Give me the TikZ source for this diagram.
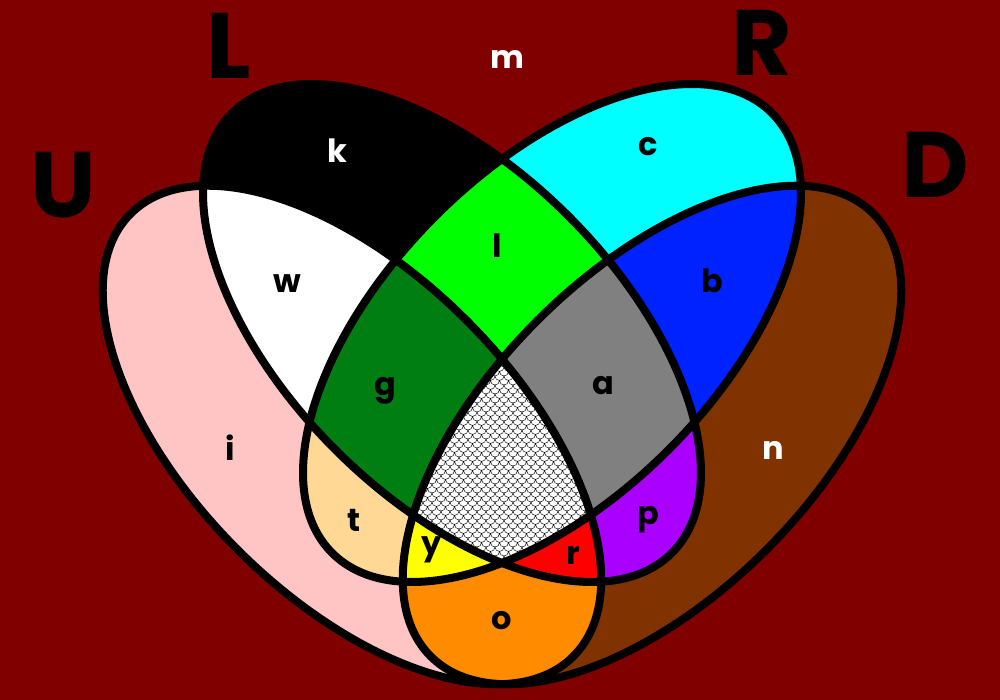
\documentclass[tikz,border=0pt]{standalone}
\usepackage{fontspec}
\setmainfont{Poppins}
\usetikzlibrary{patterns}
\definecolor{bgred}{RGB}{128,0,0}
\definecolor{cpink}{RGB}{255,196,196}
\definecolor{cbrown}{RGB}{128,51,0}
\definecolor{ccyan}{RGB}{0,255,255}
\definecolor{cwhite}{RGB}{255,255,255}
\definecolor{clime}{RGB}{0,255,0}
\definecolor{cblue}{RGB}{0,34,255}
\definecolor{corange}{RGB}{255,140,0}
\definecolor{ctan}{RGB}{255,216,150}
\definecolor{cpurple}{RGB}{170,0,255}
\definecolor{cdkgreen}{RGB}{0,126,18}
\definecolor{cgray}{RGB}{128,128,128}
\definecolor{cred}{RGB}{255,0,0}
\definecolor{cyellow}{RGB}{255,255,0}
\pgfdeclarepatternformonly{scales}{\pgfqpoint{-1pt}{-1pt}}{\pgfqpoint{10pt}{10pt}}{\pgfqpoint{9pt}{9pt}}{%
  \pgfsetlinewidth{0.45pt}%
  \pgfpathmoveto{\pgfqpoint{0pt}{9pt}}\pgfpatharc{180}{360}{4.5pt}%
  \pgfpathmoveto{\pgfqpoint{0pt}{0pt}}\pgfpatharc{270}{360}{4.5pt}%
  \pgfpathmoveto{\pgfqpoint{4.5pt}{4.5pt}}\pgfpatharc{180}{270}{4.5pt}%
  \pgfusepath{stroke}}
\def\pU{(352pt,265pt) ellipse [x radius=313pt, y radius=162pt, rotate=-45]}
\def\pD{(652pt,265pt) ellipse [x radius=313pt, y radius=162pt, rotate=45]}
\def\pL{(452pt,367pt) ellipse [x radius=311pt, y radius=165pt, rotate=-45]}
\def\pR{(552pt,367pt) ellipse [x radius=311pt, y radius=165pt, rotate=45]}
\tikzset{
  big/.style={font=\fontsize{93}{93}\selectfont\bfseries, text=black, inner sep=0pt},
  lab/.style={font=\fontsize{32}{32}\selectfont\bfseries, text=black, inner sep=0pt},
  wlab/.style={lab, text=white},
  outline/.style={draw=black, line width=8pt}
}
\begin{document}
\begin{tikzpicture}[x=1pt,y=1pt]
\useasboundingbox (0,0) rectangle (1000,700);
\fill[bgred] (0,0) rectangle (1000,700);
% single sets
\fill[cpink] \pU;
\fill[cbrown] \pD;
\fill[black] \pL;
\fill[ccyan] \pR;
% pairs
\begin{scope}\clip \pU; \fill[cwhite] \pL; \end{scope}
\begin{scope}\clip \pL; \fill[clime] \pR; \end{scope}
\begin{scope}\clip \pR; \fill[cblue] \pD; \end{scope}
\begin{scope}\clip \pU; \fill[corange] \pD; \end{scope}
\begin{scope}\clip \pU; \fill[ctan] \pR; \end{scope}
\begin{scope}\clip \pL; \fill[cpurple] \pD; \end{scope}
% triples
\begin{scope}\clip \pU; \clip \pL; \fill[cdkgreen] \pR; \end{scope}
\begin{scope}\clip \pL; \clip \pR; \fill[cgray] \pD; \end{scope}
\begin{scope}\clip \pU; \clip \pL; \fill[cred] \pD; \end{scope}
\begin{scope}\clip \pU; \clip \pR; \fill[cyellow] \pD; \end{scope}
% all four
\begin{scope}\clip \pU; \clip \pL; \clip \pR;
  \fill[white] \pD; \fill[pattern=scales] \pD;
\end{scope}
% outlines
\draw[outline] \pU;
\draw[outline] \pD;
\draw[outline] \pL;
\draw[outline] \pR;
% set names
\node[big] (nU) at (63,515) {U};
\node[big] (nL) at (229,654) {L};
\node[big] (nR) at (762,657) {R};
\node[big] (nD) at (935,535) {D};
% region labels
\node[wlab] (rm) at (507,641) {m};
\node[wlab] (rk) at (337,549) {k};
\node[lab] (rc) at (648,553) {c};
\node[lab] (rw) at (287,416) {w};
\node[lab] (rl) at (497,454) {l};
\node[lab] (rb) at (712,419) {b};
\node[lab] (rg) at (385,309) {g};
\node[lab] (ra) at (603,314) {a};
\node[lab] (ri) at (230,252) {i};
\node[wlab] (rn) at (773,250) {n};
\node[lab] (rt) at (354,180) {t};
\node[lab] (rp) at (648,180) {p};
\node[lab] (ry) at (432,150) {y};
\node[lab] (rr) at (573,145) {r};
\node[lab] (ro) at (502,79) {o};
\end{tikzpicture}
\end{document}
